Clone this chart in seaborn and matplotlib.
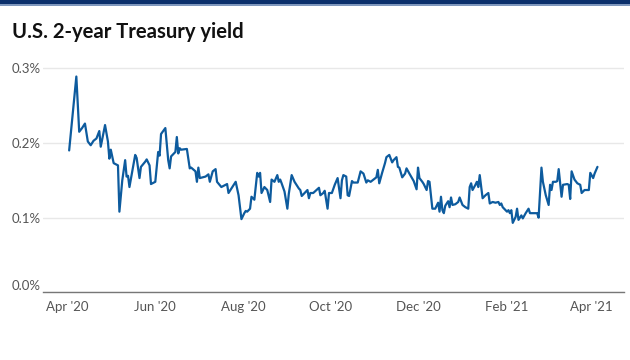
import matplotlib
matplotlib.use("Agg")
import matplotlib.pyplot as plt
import matplotlib.dates as mdates
import pandas as pd
import seaborn as sns
from matplotlib.patches import Rectangle
from matplotlib.ticker import FuncFormatter

# daily 2-year yield (percent)
dates = [
    "2020-04-02", "2020-04-07", "2020-04-09", "2020-04-11", "2020-04-13", "2020-04-15",
    "2020-04-17", "2020-04-19", "2020-04-21", "2020-04-23", "2020-04-24", "2020-04-27",
    "2020-04-29", "2020-04-30", "2020-05-01", "2020-05-03", "2020-05-06", "2020-05-07",
    "2020-05-09", "2020-05-11", "2020-05-12", "2020-05-13", "2020-05-14", "2020-05-18",
    "2020-05-19", "2020-05-21", "2020-05-22", "2020-05-25", "2020-05-26", "2020-05-28",
    "2020-05-29", "2020-06-01", "2020-06-03", "2020-06-04", "2020-06-05", "2020-06-08",
    "2020-06-10", "2020-06-11", "2020-06-12", "2020-06-15", "2020-06-16", "2020-06-17",
    "2020-06-18", "2020-06-19", "2020-06-23", "2020-06-25", "2020-06-26", "2020-06-29",
    "2020-06-30", "2020-07-01", "2020-07-02", "2020-07-06", "2020-07-08", "2020-07-09",
    "2020-07-11", "2020-07-13", "2020-07-14", "2020-07-17", "2020-07-21", "2020-07-22",
    "2020-07-24", "2020-07-27", "2020-07-29", "2020-07-31", "2020-08-02", "2020-08-03",
    "2020-08-04", "2020-08-06", "2020-08-07", "2020-08-09", "2020-08-11", "2020-08-12",
    "2020-08-13", "2020-08-14", "2020-08-15", "2020-08-16", "2020-08-18", "2020-08-20",
    "2020-08-21", "2020-08-23", "2020-08-25", "2020-08-26", "2020-08-27", "2020-08-28",
    "2020-08-30", "2020-09-01", "2020-09-02", "2020-09-04", "2020-09-06", "2020-09-09",
    "2020-09-10", "2020-09-11", "2020-09-13", "2020-09-15", "2020-09-16", "2020-09-17",
    "2020-09-19", "2020-09-23", "2020-09-24", "2020-09-26", "2020-09-27", "2020-09-29",
    "2020-09-30", "2020-10-02", "2020-10-04", "2020-10-06", "2020-10-08", "2020-10-09",
    "2020-10-10", "2020-10-12", "2020-10-13", "2020-10-14", "2020-10-16", "2020-10-17",
    "2020-10-20", "2020-10-22", "2020-10-24", "2020-10-26", "2020-10-27", "2020-10-29",
    "2020-10-31", "2020-11-02", "2020-11-03", "2020-11-04", "2020-11-06", "2020-11-08",
    "2020-11-09", "2020-11-11", "2020-11-13", "2020-11-14", "2020-11-16", "2020-11-17",
    "2020-11-18", "2020-11-20", "2020-11-22", "2020-11-23", "2020-11-25", "2020-11-28",
    "2020-11-30", "2020-12-01", "2020-12-02", "2020-12-04", "2020-12-05", "2020-12-07",
    "2020-12-08", "2020-12-09", "2020-12-11", "2020-12-13", "2020-12-15", "2020-12-16",
    "2020-12-17", "2020-12-18", "2020-12-19", "2020-12-20", "2020-12-22", "2020-12-23",
    "2020-12-24", "2020-12-25", "2020-12-27", "2020-12-29", "2020-12-30", "2021-01-01",
    "2021-01-03", "2021-01-05", "2021-01-06", "2021-01-07", "2021-01-08", "2021-01-10",
    "2021-01-11", "2021-01-12", "2021-01-13", "2021-01-15", "2021-01-17", "2021-01-19",
    "2021-01-20", "2021-01-22", "2021-01-24", "2021-01-26", "2021-01-27", "2021-01-28",
    "2021-01-29", "2021-01-30", "2021-02-01", "2021-02-02", "2021-02-03", "2021-02-04",
    "2021-02-05", "2021-02-07", "2021-02-08", "2021-02-09", "2021-02-11", "2021-02-12",
    "2021-02-14", "2021-02-16", "2021-02-17", "2021-02-19", "2021-02-22", "2021-02-23",
    "2021-02-25", "2021-02-26", "2021-02-28", "2021-03-02", "2021-03-03", "2021-03-04",
    "2021-03-05", "2021-03-07", "2021-03-08", "2021-03-09", "2021-03-11", "2021-03-12",
    "2021-03-15", "2021-03-16", "2021-03-17", "2021-03-18", "2021-03-20", "2021-03-22",
    "2021-03-24", "2021-03-25", "2021-03-27", "2021-03-30", "2021-03-31", "2021-04-02",
    "2021-04-03", "2021-04-05",
]
yields = [
    0.190, 0.289, 0.215, 0.220, 0.226, 0.202,
    0.197, 0.203, 0.206, 0.216, 0.195, 0.224,
    0.202, 0.179, 0.191, 0.173, 0.170, 0.108,
    0.150, 0.177, 0.155, 0.156, 0.141, 0.184,
    0.180, 0.153, 0.168, 0.175, 0.178, 0.170,
    0.145, 0.148, 0.188, 0.183, 0.212, 0.220,
    0.177, 0.166, 0.182, 0.188, 0.208, 0.186,
    0.193, 0.191, 0.192, 0.166, 0.167, 0.162,
    0.148, 0.167, 0.153, 0.155, 0.158, 0.148,
    0.162, 0.165, 0.148, 0.141, 0.145, 0.133,
    0.139, 0.148, 0.130, 0.098, 0.106, 0.109,
    0.108, 0.112, 0.128, 0.124, 0.160, 0.155,
    0.160, 0.133, 0.137, 0.141, 0.137, 0.121,
    0.151, 0.148, 0.157, 0.148, 0.151, 0.146,
    0.135, 0.112, 0.132, 0.157, 0.148, 0.139,
    0.137, 0.129, 0.133, 0.137, 0.126, 0.133,
    0.133, 0.140, 0.130, 0.133, 0.136, 0.112,
    0.133, 0.133, 0.144, 0.153, 0.126, 0.150,
    0.157, 0.155, 0.130, 0.129, 0.149, 0.147,
    0.147, 0.162, 0.159, 0.147, 0.150, 0.148,
    0.151, 0.154, 0.164, 0.146, 0.160, 0.173,
    0.181, 0.184, 0.174, 0.177, 0.181, 0.168,
    0.167, 0.154, 0.159, 0.166, 0.159, 0.149,
    0.138, 0.167, 0.153, 0.148, 0.145, 0.137,
    0.149, 0.148, 0.112, 0.112, 0.120, 0.108,
    0.128, 0.110, 0.106, 0.116, 0.122, 0.114,
    0.127, 0.117, 0.118, 0.121, 0.127, 0.117,
    0.114, 0.112, 0.141, 0.146, 0.137, 0.144,
    0.148, 0.141, 0.157, 0.126, 0.130, 0.133,
    0.119, 0.121, 0.120, 0.121, 0.117, 0.119,
    0.114, 0.112, 0.108, 0.110, 0.106, 0.110,
    0.093, 0.101, 0.112, 0.097, 0.103, 0.099,
    0.106, 0.112, 0.106, 0.106, 0.106, 0.100,
    0.167, 0.148, 0.130, 0.117, 0.144, 0.137,
    0.148, 0.148, 0.149, 0.165, 0.128, 0.144,
    0.145, 0.144, 0.125, 0.162, 0.151, 0.146,
    0.144, 0.133, 0.137, 0.137, 0.160, 0.153,
    0.159, 0.168,
]
y_ticks = [0.0, 0.1, 0.2, 0.3]
x_ticks = ["2020-04-01", "2020-06-01", "2020-08-01", "2020-10-01",
           "2020-12-01", "2021-02-01", "2021-04-01"]
title = "U.S. 2-year Treasury yield"

LINE = "#0d5b9e"
NAVY = "#0b2f6b"
TEXT = "#555555"

sns.set_theme(style="white")
plt.rcParams["font.family"] = ["Lato", "DejaVu Sans"]

df = pd.DataFrame({"date": pd.to_datetime(dates), "yield": yields})

fig = plt.figure(figsize=(6.3, 3.6), dpi=100)
ax = fig.add_axes([0.0683, 0.188, 0.9222, 0.643])

sns.lineplot(data=df, x="date", y="yield", ax=ax, color=LINE, linewidth=1.6)

start = pd.Timestamp("2020-04-01")
end = pd.Timestamp("2021-04-01")
ax.set_xlim(start - pd.Timedelta(days=17.2), end + pd.Timedelta(days=22.5))
ax.set_ylim(0, 0.31)

ax.set_yticks(y_ticks)
ax.yaxis.set_major_formatter(FuncFormatter(lambda v, _: f"{v:.1f}%"))
ax.set_xticks(pd.to_datetime(x_ticks))
ax.xaxis.set_major_formatter(mdates.DateFormatter("%b '%y"))

ax.grid(axis="y", color="#e8e8e8", linewidth=1.0)
ax.grid(axis="x", visible=False)
for side in ["top", "right", "left"]:
    ax.spines[side].set_visible(False)
ax.spines["bottom"].set_color("#777777")
ax.spines["bottom"].set_linewidth(1.0)

ax.tick_params(axis="y", length=0, pad=22.3, labelsize=9.5, labelcolor=TEXT)
ax.tick_params(axis="x", length=3, color="#cccccc", pad=3, labelsize=9.5, labelcolor=TEXT)
for lbl in ax.get_yticklabels():
    lbl.set_horizontalalignment("left")
ax.get_yticklabels()[0].set_verticalalignment("bottom")
ax.set_xlabel("")
ax.set_ylabel("")

fig.text(0.019, 0.911, title, fontsize=14.6, fontweight="bold", color="#111111",
         va="center", ha="left")

# navy banner across the top edge
fig.patches.append(Rectangle((0, 0.988), 1, 0.012, transform=fig.transFigure,
                             facecolor=NAVY, edgecolor="none"))
fig.patches.append(Rectangle((0, 0.983), 1, 0.005, transform=fig.transFigure,
                             facecolor="#7f97bd", edgecolor="none"))

fig.savefig("out.png", dpi=100)
